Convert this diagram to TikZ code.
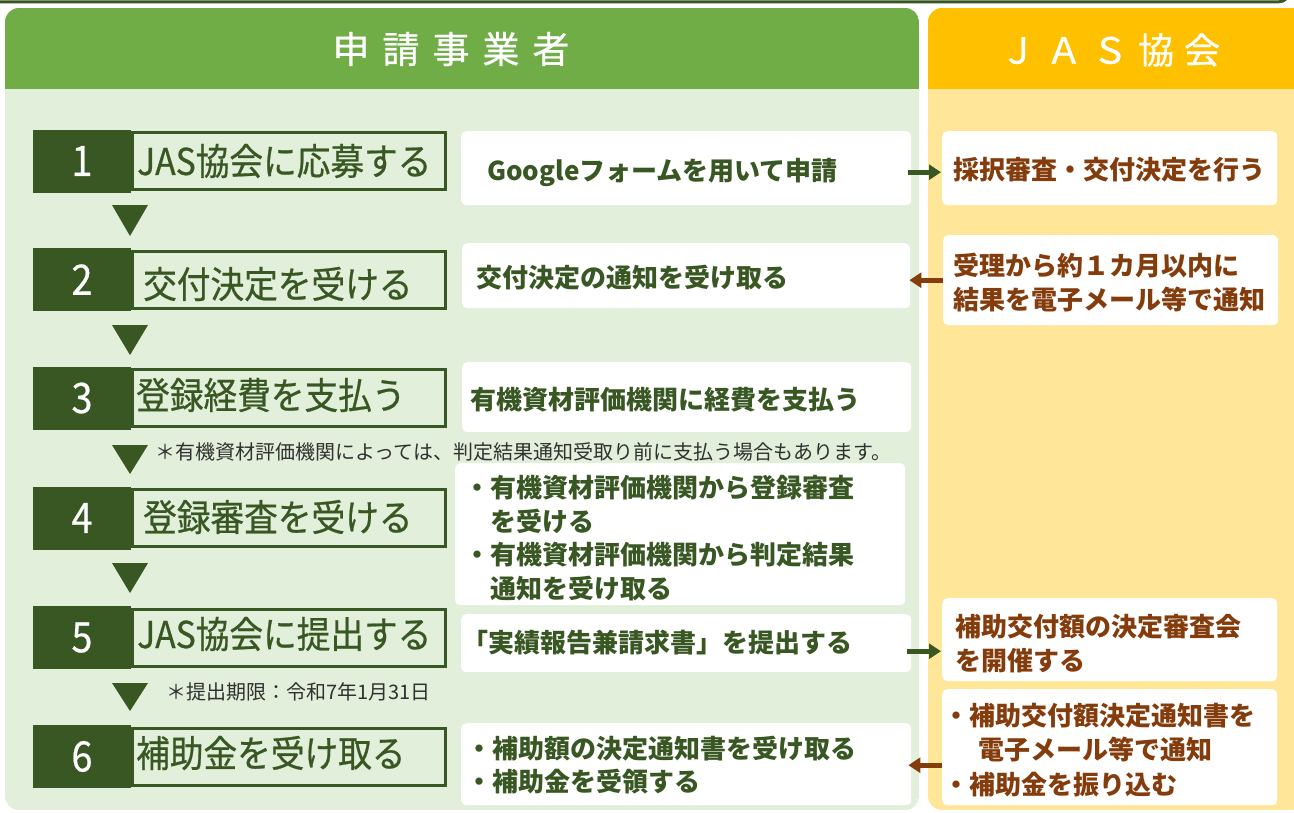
\documentclass[tikz,border=0pt]{standalone}
\usepackage{fontspec}
\setmainfont{Noto Sans CJK JP}
\newfontfamily\stepfont[FakeStretch=0.91, FakeBold=0.6]{Noto Sans CJK JP}
\newfontfamily\numfont[FakeStretch=0.9, FakeBold=0.5]{Noto Sans CJK JP}
\newfontfamily\headfont[FakeBold=0.8]{Noto Sans CJK JP}
\usetikzlibrary{arrows.meta}
\definecolor{dkgreen}{HTML}{385723}
\definecolor{hdgreen}{HTML}{70AD47}
\definecolor{ltgreen}{HTML}{E2EFDA}
\definecolor{hdyellow}{HTML}{FFC000}
\definecolor{ltyellow}{HTML}{FFE699}
\definecolor{jbrown}{HTML}{843C0C}
\definecolor{notegray}{HTML}{303030}
\tikzset{
  hdtext/.style={text=white, inner sep=0, font=\headfont\fontsize{37}{40}\selectfont},
  numbox/.style={fill=dkgreen, text=white, minimum width=98, minimum height=63, inner sep=0,
    font=\numfont\fontsize{42}{44}\selectfont},
  stepframe/.style={draw=dkgreen, line width=3, fill=ltgreen, minimum width=313, minimum height=57, inner sep=0},
  steplabel/.style={text=dkgreen, inner sep=0, anchor=west, font=\stepfont\fontsize{37}{40}\selectfont},
  whitebox/.style={fill=white, rounded corners=5, inner sep=0, anchor=north west},
  midtext/.style={text=dkgreen, inner sep=0, anchor=west, align=left, font=\fontsize{26}{33.5}\selectfont\bfseries},
  righttext/.style={text=jbrown, inner sep=0, anchor=west, align=left, font=\fontsize{26}{34.5}\selectfont\bfseries},
  notetext/.style={text=notegray, inner sep=0, anchor=west, font=\fontsize{20}{22}\selectfont},
  garrow/.style={draw=dkgreen, line width=5, -{Triangle[length=12,width=15]}},
  barrow/.style={draw=jbrown, line width=5, -{Triangle[length=12,width=15]}},
  downtri/.style={fill=dkgreen}
}
\begin{document}
\begin{tikzpicture}[x=1pt, y=-1pt]
\useasboundingbox (0,0) rectangle (1294,812);
\clip (0,0) rectangle (1294,812);
\fill[white] (0,0) rectangle (1294,812);
% top strip
\draw[dkgreen, line width=3, rounded corners=10] (-10,-30) rectangle (1289,1.8);
% green column
\begin{scope}
  \clip[rounded corners=14] (5,8) rectangle (919,810);
  \fill[ltgreen] (5,8) rectangle (919,810);
  \fill[hdgreen] (5,8) rectangle (919,89);
\end{scope}
% yellow column
\begin{scope}
  \clip[rounded corners=14] (928,8) rectangle (1308,810);
  \fill[ltyellow] (928,8) rectangle (1308,810);
  \fill[hdyellow] (928,8) rectangle (1308,89);
\end{scope}
\node[hdtext] (h1) at (451,49) {申\hspace{13pt}請\hspace{13pt}事\hspace{13pt}業\hspace{13pt}者};
\node[hdtext, font=\headfont\fontsize{36}{40}\selectfont] (h2) at (1110,50) {Ｊ\hspace{10pt}Ａ\hspace{10pt}Ｓ\hspace{10pt}協\hspace{10pt}会};

% steps
\node[stepframe] (f1) at (289,161) {};
\node[numbox] (n1) at (82,161) {1};
\node[steplabel] (t1) at (137,161) {JAS協会に応募する};

\node[stepframe] (f2) at (289,279.5) {};
\node[numbox] (n2) at (82,279.5) {2};
\node[steplabel] (t2) at (143,284) {交付決定を受ける};

\node[stepframe] (f3) at (289,398) {};
\node[numbox] (n3) at (82,398) {3};
\node[steplabel] (t3) at (136,395) {登録経費を支払う};

\node[stepframe] (f4) at (289,518) {};
\node[numbox] (n4) at (82,518) {4};
\node[steplabel] (t4) at (143,517) {登録審査を受ける};

\node[stepframe] (f5) at (289,637.5) {};
\node[numbox] (n5) at (82,637.5) {5};
\node[steplabel] (t5) at (137,634) {JAS協会に提出する};

\node[stepframe] (f6) at (289,756.5) {};
\node[numbox] (n6) at (82,756.5) {6};
\node[steplabel] (t6) at (136,753) {補助金を受け取る};

% down triangles
\fill[downtri] (112,205) -- (148,205) -- (130,236) -- cycle;
\fill[downtri] (112,325) -- (148,325) -- (130,355) -- cycle;
\fill[downtri] (112,445) -- (148,445) -- (130,474) -- cycle;
\fill[downtri] (112,563) -- (148,563) -- (130,593) -- cycle;
\fill[downtri] (112,683) -- (148,683) -- (130,711) -- cycle;

% notes
\node[notetext] (note3) at (155,452) {＊有機資材評価機関によっては、判定結果通知受取り前に支払う場合もあります。};
\node[notetext] (note5) at (166,692) {＊提出期限：令和7年1月31日};

% middle boxes
\node[whitebox, minimum width=450, minimum height=74] (m1) at (461,131) {};
\node[midtext] (mt1) at (487,172) {Googleフォームを用いて申請};
\node[whitebox, minimum width=448, minimum height=65] (m2) at (462,243) {};
\node[midtext] (mt2) at (476,278) {交付決定の通知を受け取る};
\node[whitebox, minimum width=449, minimum height=70] (m3) at (462,362) {};
\node[midtext] (mt3) at (470,400) {有機資材評価機関に経費を支払う};
\node[whitebox, minimum width=450, minimum height=142] (m4) at (455,463) {};
\node[midtext] (mt4) at (464,538) {・有機資材評価機関から登録審査\\\hspace{1em}を受ける\\・有機資材評価機関から判定結果\\\hspace{1em}通知を受け取る};
\node[whitebox, minimum width=450, minimum height=58] (m5) at (461,614) {};
\node[midtext] (mt5) at (462,643) {「実績報告兼請求書」を提出する};
\node[whitebox, minimum width=450, minimum height=82] (m6) at (461,723) {};
\node[midtext] (mt6) at (466,765) {・補助額の決定通知書を受け取る\\・補助金を受領する};

% right boxes
\node[whitebox, minimum width=335, minimum height=74] (r1) at (942,131) {};
\node[righttext] (rt1) at (953,170) {採択審査・交付決定を行う};
\node[whitebox, minimum width=335, minimum height=90] (r2) at (943,235) {};
\node[righttext] (rt2) at (953,282.5) {受理から約１カ月以内に\\結果を電子メール等で通知};
\node[whitebox, minimum width=335, minimum height=83] (r5) at (942,598) {};
\node[righttext] (rt5) at (955,643.5) {補助交付額の決定審査会\\を開催する};
\node[whitebox, minimum width=335, minimum height=116] (r6) at (942,689) {};
\node[righttext] (rt6) at (943,750) {・補助交付額決定通知書を\\\hspace{1.35em}電子メール等で通知\\・補助金を振り込む};

% arrows
\draw[garrow] ([xshift=-3pt,yshift=-4pt]m1.east) -- ([xshift=-1pt,yshift=-4pt]r1.west);
\draw[barrow] ([xshift=0pt]r2.west) -- ([xshift=-1pt]r2.west -| m2.east);
\draw[garrow] ([xshift=-4pt,yshift=-8pt]m5.east) -- ([xshift=-1pt,yshift=-8pt]m5.east -| r5.west);
\draw[barrow] ([yshift=-1pt]m6.east -| r6.west) -- ([xshift=-3pt,yshift=-1pt]m6.east);
\end{tikzpicture}
\end{document}
